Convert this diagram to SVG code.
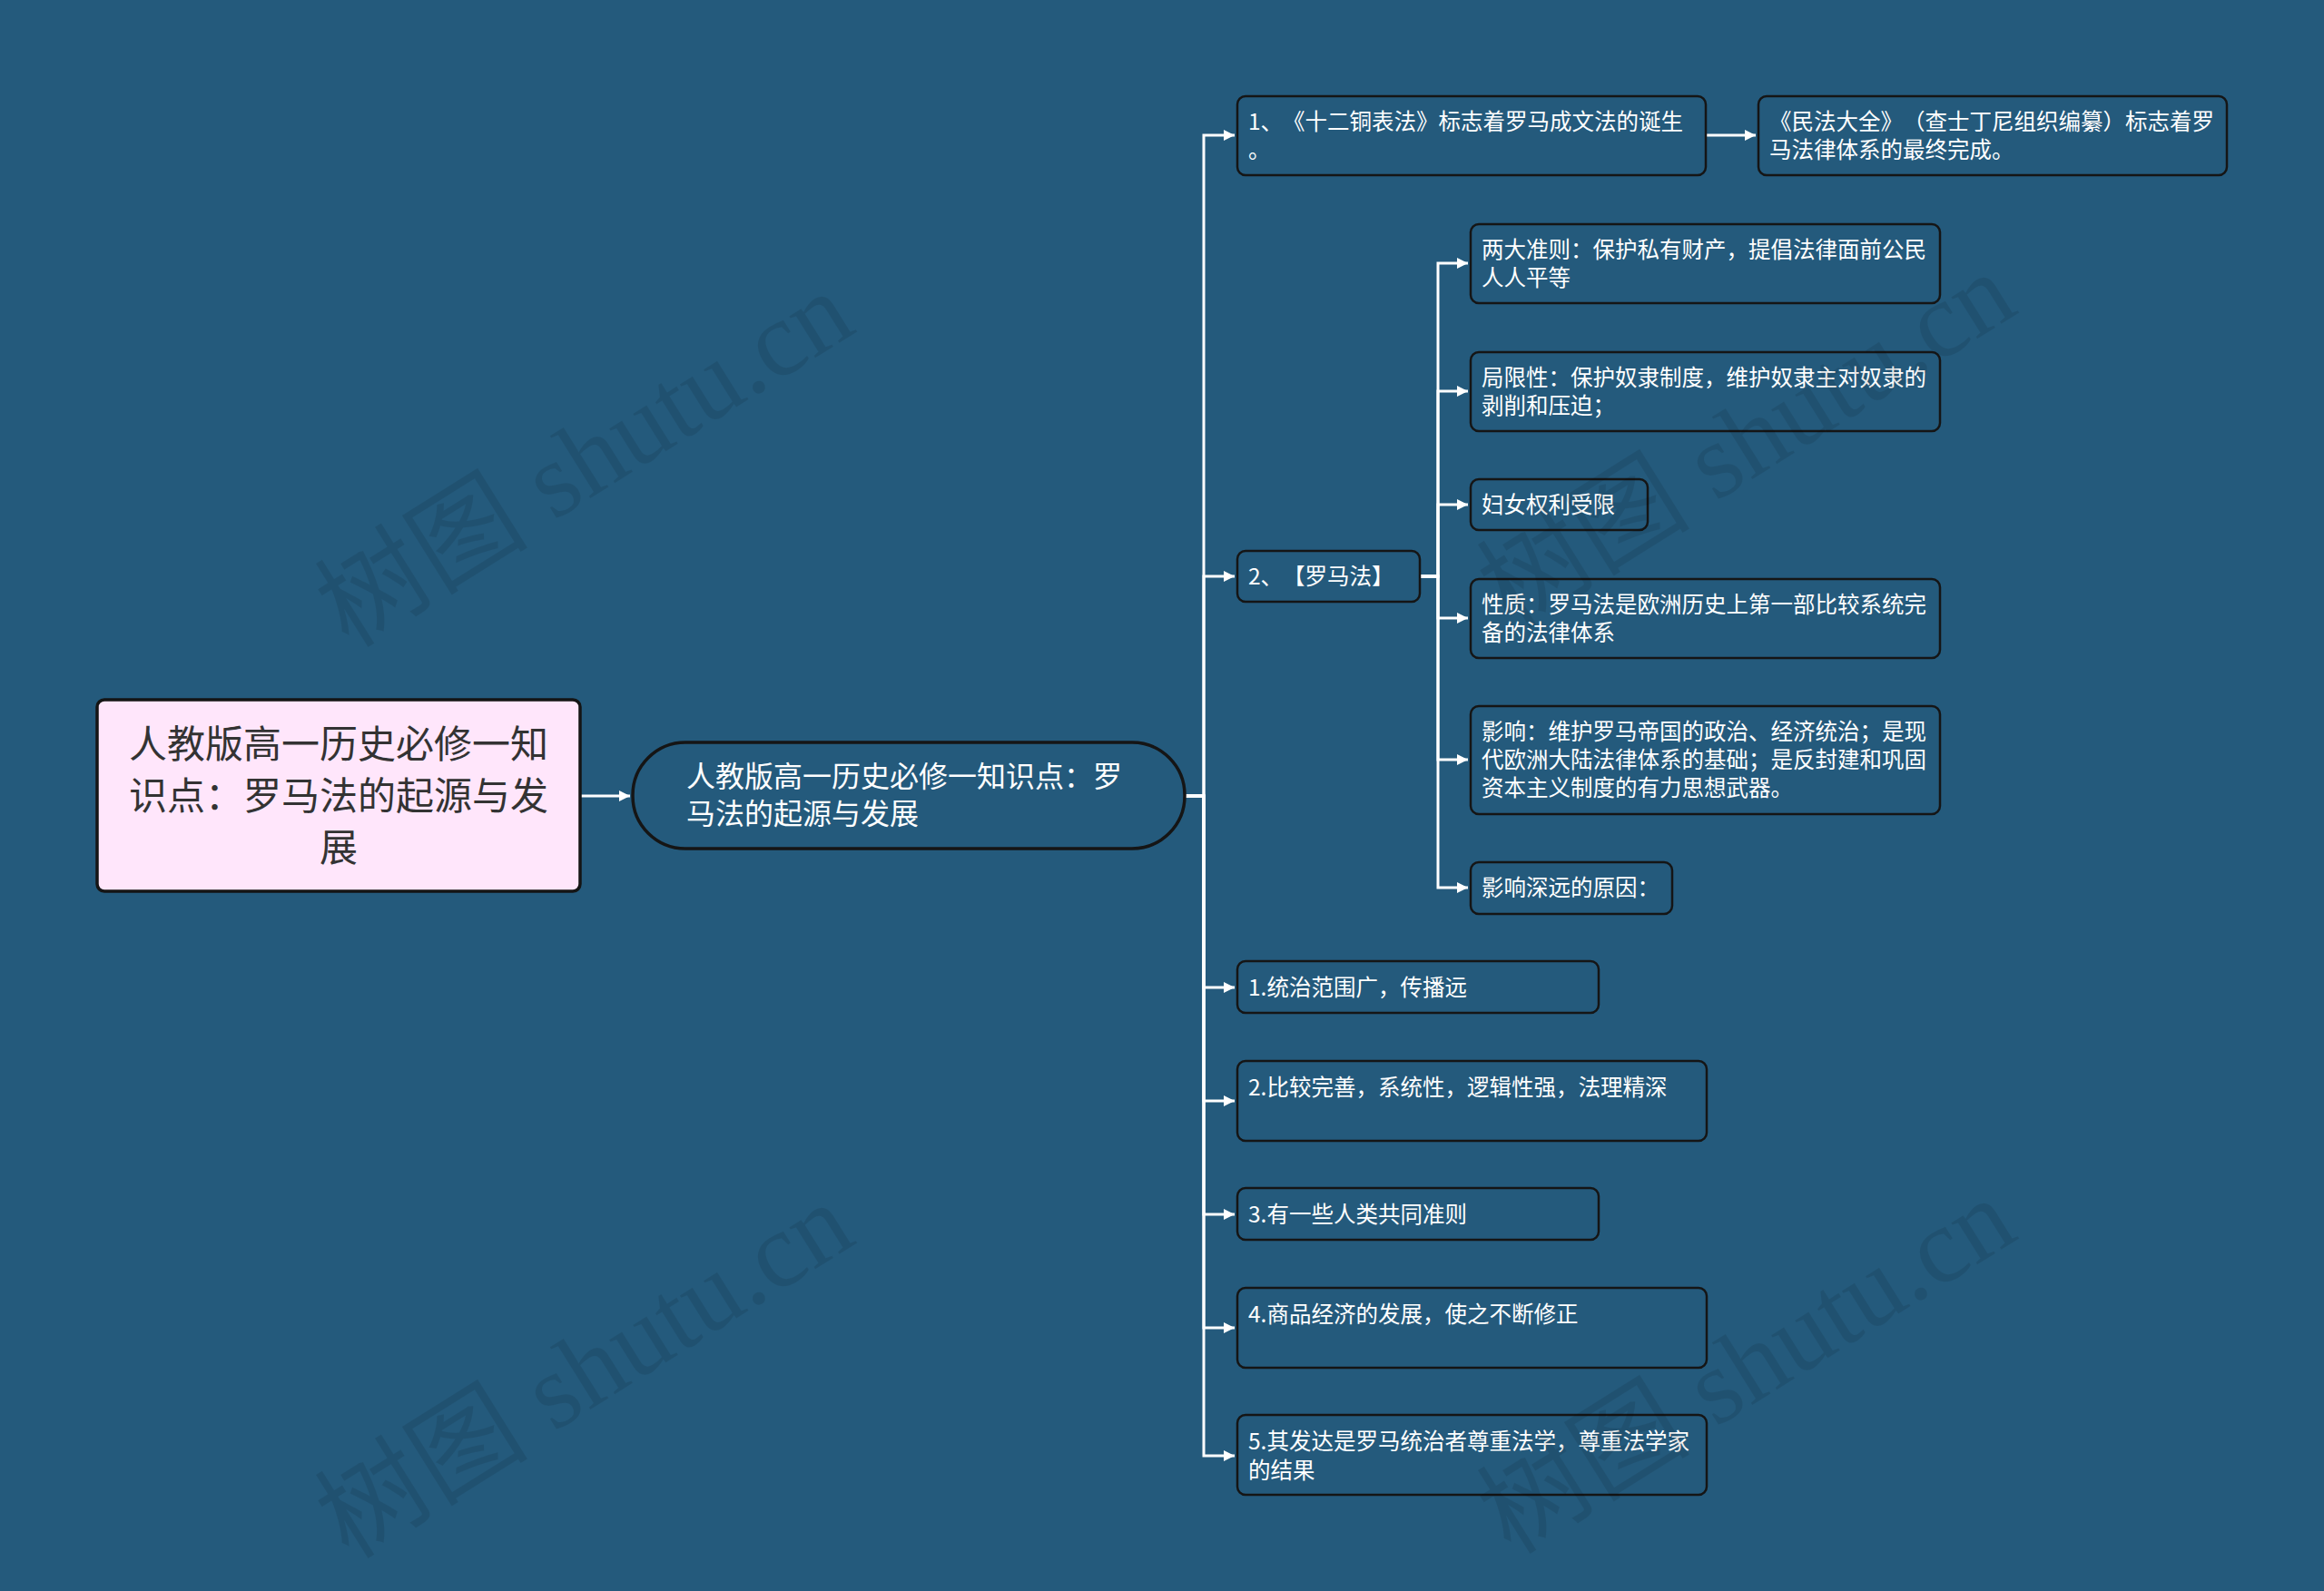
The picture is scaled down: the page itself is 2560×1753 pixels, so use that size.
<svg xmlns="http://www.w3.org/2000/svg" width="2560" height="1753" viewBox="0 0 2560 1753">
<defs>
<marker id="ah" markerUnits="userSpaceOnUse" markerWidth="14" markerHeight="14" refX="12" refY="6" orient="auto">
<path d="M0,0 L12,6 L0,12 z" fill="#ffffff"/>
</marker>
<style>
.bg{fill:#245a7c}
.wm{font-family:"Liberation Serif","Noto Sans CJK SC",serif;font-size:118px;fill:#000000;fill-opacity:0.09}
.conn{fill:none;stroke:#ffffff;stroke-width:3}
.node rect{fill:#245a7c;stroke:#151515;stroke-width:2.5}
.node text{font-family:"Noto Sans CJK SC","Microsoft YaHei",sans-serif;font-size:24.5px;fill:#ffffff;text-spacing-trim:space-all}
#root rect{fill:#ffe6fb;stroke:#151515;stroke-width:3.5}
#root text{font-size:42px;fill:#333333;text-anchor:middle}
#center rect{stroke-width:3.5}
#center text{font-size:32px}
</style>
</defs>
<rect class="bg" x="0" y="0" width="2560" height="1753"/>
<g id="connectors">
<path class="conn" d="M639,877 H694" marker-end="url(#ah)"/>
<path class="conn" d="M1305,877 H1326 V149 H1360" marker-end="url(#ah)"/>
<path class="conn" d="M1305,877 H1326 V635 H1360" marker-end="url(#ah)"/>
<path class="conn" d="M1305,877 H1326 V1088 H1360" marker-end="url(#ah)"/>
<path class="conn" d="M1305,877 H1326 V1213 H1360" marker-end="url(#ah)"/>
<path class="conn" d="M1305,877 H1326 V1338 H1360" marker-end="url(#ah)"/>
<path class="conn" d="M1305,877 H1326 V1463 H1360" marker-end="url(#ah)"/>
<path class="conn" d="M1305,877 H1326 V1604 H1360" marker-end="url(#ah)"/>
<path class="conn" d="M1879,149 H1934" marker-end="url(#ah)"/>
<path class="conn" d="M1564,635 H1584 V290 H1617" marker-end="url(#ah)"/>
<path class="conn" d="M1564,635 H1584 V431 H1617" marker-end="url(#ah)"/>
<path class="conn" d="M1564,635 H1584 V556 H1617" marker-end="url(#ah)"/>
<path class="conn" d="M1564,635 H1584 V681 H1617" marker-end="url(#ah)"/>
<path class="conn" d="M1564,635 H1584 V837 H1617" marker-end="url(#ah)"/>
<path class="conn" d="M1564,635 H1584 V978 H1617" marker-end="url(#ah)"/>
</g>
<g id="root" class="node">
<rect x="107" y="771" width="532" height="211" rx="8"/>
<text x="373" y="835">人教版高一历史必修一知</text>
<text x="373" y="892">识点：罗马法的起源与发</text>
<text x="373" y="949">展</text>
</g>
<g id="center" class="node">
<rect x="697" y="818" width="608" height="117" rx="58"/>
<text x="756" y="867">人教版高一历史必修一知识点：罗</text>
<text x="756" y="908">马法的起源与发展</text>
</g>
<g id="n1" class="node">
<rect x="1363" y="106" width="516" height="87" rx="9"/>
<text x="1375" y="143">1、《十二铜表法》标志着罗马成文法的诞生</text>
<text x="1375" y="174">。</text>
</g>
<g id="n2" class="node">
<rect x="1937" y="106" width="516" height="87" rx="9"/>
<text x="1949" y="143">《民法大全》（查士丁尼组织编纂）标志着罗</text>
<text x="1949" y="174">马法律体系的最终完成。</text>
</g>
<g id="n3" class="node">
<rect x="1363" y="607" width="201" height="56" rx="9"/>
<text x="1375" y="644">2、【罗马法】</text>
</g>
<g id="na" class="node">
<rect x="1620" y="247" width="517" height="87" rx="9"/>
<text x="1632" y="284">两大准则：保护私有财产，提倡法律面前公民</text>
<text x="1632" y="315">人人平等</text>
</g>
<g id="nb" class="node">
<rect x="1620" y="388" width="517" height="87" rx="9"/>
<text x="1632" y="425">局限性：保护奴隶制度，维护奴隶主对奴隶的</text>
<text x="1632" y="456">剥削和压迫；</text>
</g>
<g id="nc" class="node">
<rect x="1620" y="528" width="195" height="56" rx="9"/>
<text x="1632" y="565">妇女权利受限</text>
</g>
<g id="nd" class="node">
<rect x="1620" y="638" width="517" height="87" rx="9"/>
<text x="1632" y="675">性质：罗马法是欧洲历史上第一部比较系统完</text>
<text x="1632" y="706">备的法律体系</text>
</g>
<g id="ne" class="node">
<rect x="1620" y="778" width="517" height="119" rx="9"/>
<text x="1632" y="815">影响：维护罗马帝国的政治、经济统治；是现</text>
<text x="1632" y="846">代欧洲大陆法律体系的基础；是反封建和巩固</text>
<text x="1632" y="877">资本主义制度的有力思想武器。</text>
</g>
<g id="nf" class="node">
<rect x="1620" y="950" width="222" height="57" rx="9"/>
<text x="1632" y="987">影响深远的原因：</text>
</g>
<g id="ng" class="node">
<rect x="1363" y="1059" width="398" height="57" rx="9"/>
<text x="1375" y="1097">1.统治范围广，传播远</text>
</g>
<g id="nh" class="node">
<rect x="1363" y="1169" width="517" height="88" rx="9"/>
<text x="1375" y="1207">2.比较完善，系统性，逻辑性强，法理精深</text>
</g>
<g id="ni" class="node">
<rect x="1363" y="1309" width="398" height="57" rx="9"/>
<text x="1375" y="1347">3.有一些人类共同准则</text>
</g>
<g id="nj" class="node">
<rect x="1363" y="1419" width="517" height="88" rx="9"/>
<text x="1375" y="1457">4.商品经济的发展，使之不断修正</text>
</g>
<g id="nk" class="node">
<rect x="1363" y="1559" width="517" height="88" rx="9"/>
<text x="1375" y="1597">5.其发达是罗马统治者尊重法学，尊重法学家</text>
<text x="1375" y="1629">的结果</text>
</g>
<g id="watermarks">
<text class="wm" x="647" y="545" text-anchor="middle" transform="rotate(-32 647 511)">树图 shutu.cn</text>
<text class="wm" x="1927" y="524" text-anchor="middle" transform="rotate(-32 1927 490)">树图 shutu.cn</text>
<text class="wm" x="647" y="1549" text-anchor="middle" transform="rotate(-32 647 1515)">树图 shutu.cn</text>
<text class="wm" x="1927" y="1544" text-anchor="middle" transform="rotate(-32 1927 1510)">树图 shutu.cn</text>
</g>
</svg>
